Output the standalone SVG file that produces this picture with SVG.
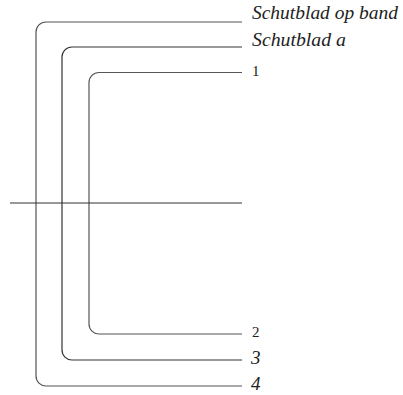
<svg xmlns="http://www.w3.org/2000/svg" width="403" height="395" viewBox="0 0 403 395">
<style>
.ln{fill:none;stroke:#333;stroke-width:1.2}
.lg{fill:none;stroke:#555;stroke-width:1.2}
.t{font-family:"Liberation Serif",serif;font-style:italic;font-size:19px;fill:#222}
.n{font-family:"Liberation Serif",serif;font-size:15px;fill:#222}
</style>
<rect width="403" height="395" fill="#fff"/>
<g id="connectors">
<path class="lg" d="M242,22 H46 A10,10 0 0 0 36,32 V376 A10,10 0 0 0 46,386 H242"/>
<path class="ln" d="M242,47 H72 A10,10 0 0 0 62,57 V350 A10,10 0 0 0 72,360 H242"/>
<path class="lg" d="M242,72.5 H99 A10,10 0 0 0 89,82.5 V324 A10,10 0 0 0 99,334 H242"/>
<path class="ln" d="M10,203 H242"/>
</g>
<g id="label-schutblad-op-band"><text class="t" x="252" y="19" textLength="146" lengthAdjust="spacingAndGlyphs">Schutblad op band</text></g>
<g id="label-schutblad-a"><text class="t" x="252" y="46" textLength="94" lengthAdjust="spacingAndGlyphs">Schutblad a</text></g>
<g id="label-1"><text class="n" x="252" y="76">1</text></g>
<g id="label-2"><text class="n" x="252" y="337">2</text></g>
<g id="label-3"><text class="t" x="251" y="364">3</text></g>
<g id="label-4"><text class="t" x="251" y="390">4</text></g>
</svg>
